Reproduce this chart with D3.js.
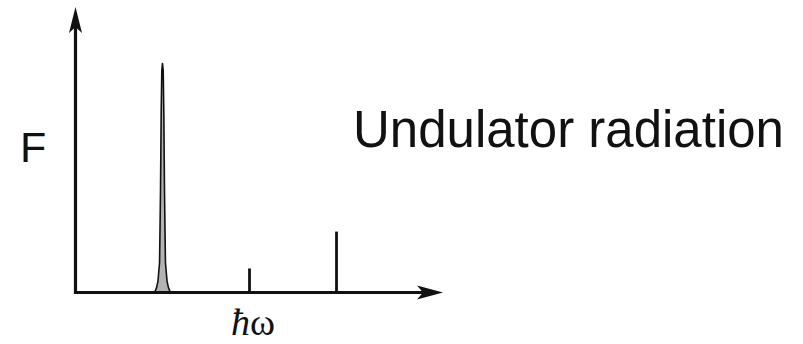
<!DOCTYPE html>
<html>
<head>
<meta charset="utf-8">
<script src="https://cdn.jsdelivr.net/npm/d3@7"></script>
<style>
  html, body { margin: 0; padding: 0; background: #fff; }
  svg { display: block; }
</style>
</head>
<body>
<script>
// harmonics of the undulator spectrum (x in units of the fundamental)
const harmonics = [1, 2, 3];
const amplitudes = [1, 0.105, 0.266];

// outline of the fundamental line: relative height vs half width
const peakLevel = [0, 0.02, 0.05, 0.13, 0.24, 0.44, 0.79, 0.97];
const peakHalfWidth = [0.092, 0.069, 0.052, 0.034, 0.030, 0.023, 0.015, 0.008];

const X_MAX = 4.224, Y_MAX = 1.247;
const TITLE = "Undulator radiation";

const width = 803, height = 344;

const svg = d3.select('body').append('svg')
	.attr('width', width)
	.attr('height', height);

const x = d3.scaleLinear().domain([0, X_MAX]).range([75.5, 443]);
const y = d3.scaleLinear().domain([0, 1]).range([292.5, 63.5]);

/* fundamental peak, filled */
const left = peakLevel.map((l, i) => [1 - peakHalfWidth[i], l]);
const right = peakLevel.map((l, i) => [1 + peakHalfWidth[i], l]).reverse();
const outline = left.concat([[1, 1]], right);

const peakLine = d3.line()
	.x(d => x(d[0]))
	.y(d => y(d[1] * amplitudes[0]));

svg.append('path')
	.attr('d', peakLine(outline))
	.attr('fill', '#b3b3b3')
	.attr('stroke', '#111')
	.attr('stroke-width', 1.6)
	.attr('stroke-linejoin', 'round');

/* higher harmonics as thin lines */
svg.selectAll('line.harm')
	.data(harmonics.slice(1))
	.enter().append('line')
	.attr('class', 'harm')
	.attr('x1', d => x(d))
	.attr('x2', d => x(d))
	.attr('y1', y(0))
	.attr('y2', (d, i) => y(amplitudes[i + 1]))
	.attr('stroke', '#111')
	.attr('stroke-width', 2.8);

/* axes */
const AXIS_W = 3.2;
svg.append('path')
	.attr('d', `M${x(0)},${y(Y_MAX) + 20}L${x(0)},${y(0)}L${x(X_MAX) - 20},${y(0)}`)
	.attr('fill', 'none')
	.attr('stroke', '#111')
	.attr('stroke-width', AXIS_W)
	.attr('stroke-linejoin', 'miter')
	.attr('stroke-linecap', 'square');

// arrow heads (barbed)
const ax = x(0), ay = y(Y_MAX);
svg.append('path')
	.attr('d', `M${ax},${ay}L${ax + 6.5},${ay + 26}L${ax},${ay + 20}L${ax - 6.5},${ay + 26}Z`)
	.attr('fill', '#111');
const bx = x(X_MAX), by = y(0);
svg.append('path')
	.attr('d', `M${bx},${by}L${bx - 26},${by - 7}L${bx - 20},${by}L${bx - 26},${by + 7}Z`)
	.attr('fill', '#111');

/* labels */
svg.append('text')
	.attr('x', 20)
	.attr('y', 162)
	.attr('font-family', '"Liberation Sans", Arial, sans-serif')
	.attr('font-size', 43)
	.attr('fill', '#111')
	.text('F');

svg.append('text')
	.attr('x', 353)
	.attr('y', 147)
	.attr('font-family', '"Liberation Sans", Arial, sans-serif')
	.attr('font-size', 51)
	.attr('fill', '#111')
	.text(TITLE);

const xl = svg.append('text')
	.attr('x', 253)
	.attr('y', 335)
	.attr('text-anchor', 'middle')
	.attr('font-family', '"Liberation Serif", "Times New Roman", serif')
	.attr('font-size', 38)
	.attr('fill', '#111');
xl.append('tspan').attr('font-style', 'italic').text('ħ');
xl.append('tspan').text('ω');
</script>
</body>
</html>
